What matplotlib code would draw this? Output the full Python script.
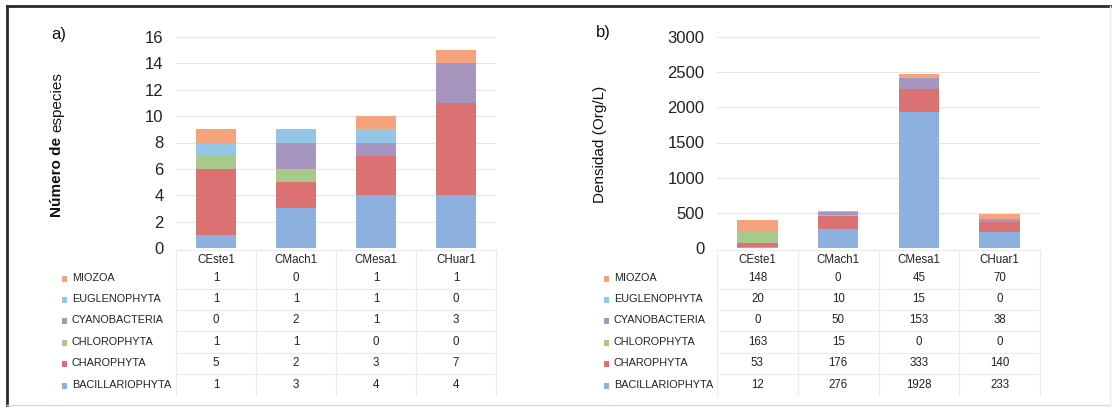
"""
Stacked bars with data tables: species count and density per site.
"""
import numpy as np
import matplotlib.pyplot as plt
from matplotlib.lines import Line2D
from matplotlib.patches import Rectangle

plt.rcParams['font.family'] = ['Liberation Sans', 'DejaVu Sans']

#=== Data ===
sites = ["CEste1", "CMach1", "CMesa1", "CHuar1"]
groups = ["BACILLARIOPHYTA", "CHAROPHYTA", "CHLOROPHYTA",
          "CYANOBACTERIA", "EUGLENOPHYTA", "MIOZOA"]

# a) number of species
species_bacil = [1, 3, 4, 4]
species_charo = [5, 2, 3, 7]
species_chloro = [1, 1, 0, 0]
species_cyano = [0, 2, 1, 3]
species_eugle = [1, 1, 1, 0]
species_miozoa = [1, 0, 1, 1]

# b) density (Org/L)
dens_bacil = [12, 276, 1928, 233]
dens_charo = [53, 176, 333, 140]
dens_chloro = [163, 15, 0, 0]
dens_cyano = [0, 50, 153, 38]
dens_eugle = [20, 10, 15, 0]
dens_miozoa = [148, 0, 45, 70]

colors = ["#8DB1DF", "#DB7173", "#A9C98A", "#A696BF", "#94C6E6", "#F4A37C"]

W, H = 1113, 412


def fy(py):
    # pixel y from top -> figure fraction
    return 1 - py / H


def draw_panel(fig, rect, series, ymax, yticks, tag, tag_xy, lbl_x):
    ax = fig.add_axes(rect)
    x = np.arange(len(sites))
    bottom = np.zeros(len(sites))
    for vals, c in zip(series, colors):
        ax.bar(x, vals, width=0.5, bottom=bottom, color=c, linewidth=0, zorder=2)
        bottom += np.array(vals)
    ax.set_xlim(-0.5, len(sites) - 0.5)
    ax.set_ylim(0, ymax)
    ax.set_yticks(yticks)
    ax.set_xticks([])
    ax.tick_params(axis='y', length=0, labelsize=12, pad=9, colors='#222222')
    ax.grid(axis='y', color='#e6e6e6', lw=0.8, zorder=0)
    for s in ax.spines.values():
        s.set_visible(False)

    # table below the axes
    blend = plt.matplotlib.transforms.blended_transform_factory(ax.transData, fig.transFigure)
    header_y = 260
    row_y = [278, 299, 320, 342, 363, 385]
    for i, s in enumerate(sites):
        fig.text(i, fy(header_y), s, transform=blend, fontsize=8.3,
                 ha='center', va='center', color='#222222')
    table_rows = list(zip(groups, colors, series))[::-1]
    for (g, c, vals), yy in zip(table_rows, row_y):
        fig.text((lbl_x + 8) / W, fy(yy), g, fontsize=7.8, ha='left', va='center', color='#222222')
        fig.patches.append(Rectangle(((lbl_x - 2.5) / W, fy(yy + 3.5)), 5.5 / W, 6 / H,
                                     transform=fig.transFigure, color=c, lw=0, figure=fig))
        for i, v in enumerate(vals):
            fig.text(i, fy(yy), str(v), transform=blend, fontsize=8.3,
                     ha='center', va='center', color='#222222')
    # faint cell lines
    for xb in np.arange(-0.5, len(sites)):
        fig.add_artist(Line2D([xb, xb], [fy(250), fy(395)], transform=blend,
                              color='#ebebeb', lw=0.8))
    for yy in [250] + [r + 10.5 for r in row_y[:-1]]:
        fig.add_artist(Line2D([-0.5, len(sites) - 0.5], [fy(yy), fy(yy)], transform=blend,
                              color='#ebebeb', lw=0.8))

    fig.text(tag_xy[0] / W, fy(tag_xy[1]), tag, fontsize=12, ha='left', va='center', color='#111111')
    return ax


fig = plt.figure(figsize=(W / 100, H / 100), dpi=100, facecolor='white')

ax_a = draw_panel(fig, [176 / W, fy(248), 320 / W, 211 / H],
                  [species_bacil, species_charo, species_chloro, species_cyano,
                   species_eugle, species_miozoa],
                  16, np.arange(0, 17, 2), "a)", (51, 35), 64)
ax_b = draw_panel(fig, [717 / W, fy(248), 323 / W, 211 / H],
                  [dens_bacil, dens_charo, dens_chloro, dens_cyano,
                   dens_eugle, dens_miozoa],
                  3000, np.arange(0, 3001, 500), "b)", (596, 33), 606)

# y labels
fig.text(57 / W, fy(217), "Número de ", rotation=90, fontsize=11, fontweight='bold',
         ha='center', va='bottom', color='#111111')
fig.text(57 / W, fy(72), "especies", rotation=90, fontsize=11,
         ha='center', va='top', color='#111111')
fig.text(600 / W, fy(144), "Densidad (Org/L)", rotation=90, fontsize=11,
         ha='center', va='center', color='#111111')

# outer frame
fig.add_artist(Line2D([7 / W, 1110 / W], [fy(6), fy(6)], transform=fig.transFigure, color='#2a2a2a', lw=2))
fig.add_artist(Line2D([7 / W, 7 / W], [fy(6), fy(405)], transform=fig.transFigure, color='#2a2a2a', lw=2))
fig.add_artist(Line2D([7 / W, 1110 / W], [fy(405), fy(405)], transform=fig.transFigure, color='#d8d8d8', lw=1))
fig.add_artist(Line2D([1110 / W, 1110 / W], [fy(6), fy(405)], transform=fig.transFigure, color='#e8e8e8', lw=1))

fig.savefig("out.png", dpi=100, facecolor='white')
